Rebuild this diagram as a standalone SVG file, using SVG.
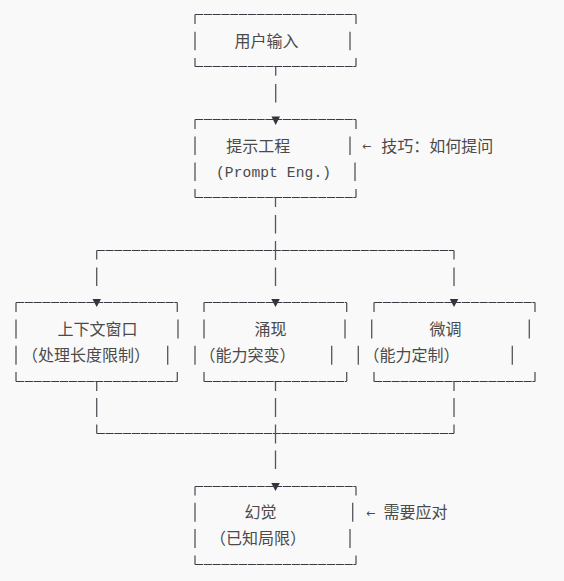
<svg xmlns="http://www.w3.org/2000/svg" width="564" height="581" viewBox="0 0 564 581">
<style>
.h{stroke:#3b3b44;stroke-width:1;fill:none;stroke-dasharray:8.1 0.7}
.v{stroke:#55555c;stroke-width:1.3;fill:none}
.tri{fill:#33333b}
.cjk{font-family:"Noto Sans CJK SC","Noto Sans",sans-serif;font-size:16px;fill:#4a4a4a}
.mono{font-family:"Liberation Mono","DejaVu Sans Mono",monospace;font-size:14.6px;fill:#4a4a4a}
.arr{font-family:"DejaVu Sans","Liberation Sans",sans-serif;font-size:11px;fill:#4a4a4a}
</style>
<rect width="564" height="581" fill="#f9f9f9"/>

<g id="connectors">
  <path class="v" d="M275.7 66.5V75.7M275.7 84V102.5"/>
  <polygon class="tri" points="271.5,116.5 280,116.5 275.7,125"/>
  <path class="v" d="M275.5 197.5V207M275.5 215V233.5"/>
  <path class="h" d="M96.7 250.5H454"/>
  <path class="v" d="M96.7 250.5V259.5M454 250.5V259.5M275.5 241V260"/>
  <path class="v" d="M96.7 267.5V286M275.5 267.5V286M454 267.5V286"/>
  <polygon class="tri" points="92.5,299 101,299 96.7,307"/>
  <polygon class="tri" points="271.3,299 279.8,299 275.5,307"/>
  <polygon class="tri" points="449.8,299 458.3,299 454,307"/>
  <path class="v" d="M96.7 381.5V391M275.5 381.5V391M454 381.5V391"/>
  <path class="v" d="M96.7 398V417M275.5 398V417M454 398V417"/>
  <path class="h" d="M96.7 433.5H454"/>
  <path class="v" d="M96.7 424.5V433.5M454 424.5V433.5M275.5 424.5V443.5"/>
  <path class="v" d="M275.5 450.5V469"/>
  <polygon class="tri" points="271.3,483 279.8,483 275.5,491"/>
</g>

<g id="n-input">
  <path class="h" d="M195 14.5H356M195 66.5H356"/>
  <path class="v" d="M195 14.5V24M356 14.5V24M195 31.7V50.2M350 31.7V50.2M195 58V66.5M356 58V66.5"/>
  <text class="cjk" x="234.5" y="47">用户输入</text>
</g>

<g id="n-prompt">
  <path class="h" d="M195 119.5H356M195 197.5H356"/>
  <path class="v" d="M195 119.5V129M356 119.5V129M195 136.4V155M350 136.4V155M195 162.5V181M355 162.5V181M195 189V197.5M356 189V197.5"/>
  <text class="cjk" x="226.3" y="152">提示工程</text>
  <text class="mono" x="216" y="177" textLength="115">(Prompt Eng.)</text>
</g>

<g id="note-prompt">
  <text class="arr" x="362" y="149.5">←</text>
  <text class="cjk" x="381.2" y="152">技巧：如何提问</text>
</g>

<g id="n-context">
  <path class="h" d="M16 302.5H177.3M16 381.5H177.3"/>
  <path class="v" d="M16 302.5V312M177.3 302.5V312M16 319.5V338.5M178 319.5V338.5M16 345.7V364.7M167.7 345.7V364.7M16 372V381.5M177.3 372V381.5"/>
  <text class="cjk" x="57.5" y="335">上下文窗口</text>
  <text class="cjk" x="22" y="361.2">（处理长度限制）</text>
</g>

<g id="n-emergence">
  <path class="h" d="M204 302.5H346.7M204 381.5H346.7"/>
  <path class="v" d="M204 302.5V312M346.7 302.5V312M204 319.5V338.5M345 319.5V338.5M195 345.7V364.7M331.7 345.7V364.7M204 372V381.5M346.7 372V381.5"/>
  <text class="cjk" x="254.5" y="335">涌现</text>
  <text class="cjk" x="199.5" y="361.2">（能力突变）</text>
</g>

<g id="n-finetune">
  <path class="h" d="M374 302.5H535M374 381.5H535"/>
  <path class="v" d="M374 302.5V312M535 302.5V312M371.7 319.5V338.5M529.3 319.5V338.5M358.3 345.7V364.7M512.3 345.7V364.7M374 372V381.5M535 372V381.5"/>
  <text class="cjk" x="429.5" y="335">微调</text>
  <text class="cjk" x="363.5" y="361.2">（能力定制）</text>
</g>

<g id="n-hallucination">
  <path class="h" d="M195 486.5H356M195 564.5H356"/>
  <path class="v" d="M195 486.5V495.5M356 486.5V495.5M195 502.7V521.7M352.7 502.7V521.7M195 529V548M350 529V548M195 555.5V564.5M356 555.5V564.5"/>
  <text class="cjk" x="244.5" y="518.2">幻觉</text>
  <text class="cjk" x="210" y="544.4">（已知局限）</text>
</g>

<g id="note-hallucination">
  <text class="arr" x="366" y="516.5">←</text>
  <text class="cjk" x="383.5" y="518.2">需要应对</text>
</g>
</svg>
